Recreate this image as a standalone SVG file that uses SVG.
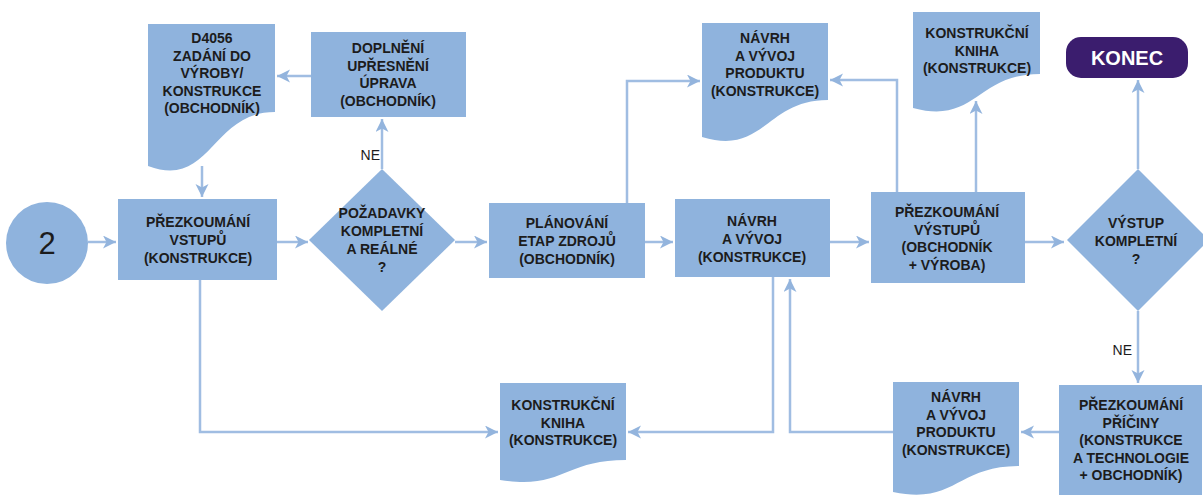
<svg xmlns="http://www.w3.org/2000/svg" width="1203" height="497" viewBox="0 0 1203 497">
  <defs>
    <style>
      .shape { fill: #8fb3dd; }
      .term { fill: #3b1d6e; }
      .lbl { font-family: "Liberation Sans", Arial, sans-serif; font-weight: bold; font-size: 14px; fill: #1c1c1c; text-anchor: middle; }
      .ne { font-family: "Liberation Sans", Arial, sans-serif; font-size: 14px; fill: #1c1c1c; text-anchor: end; }
      .num { font-family: "Liberation Sans", Arial, sans-serif; font-size: 31px; fill: #1c1c1c; text-anchor: middle; }
      .end { font-family: "Liberation Sans", Arial, sans-serif; font-weight: bold; font-size: 20px; fill: #ffffff; text-anchor: middle; }
      .conn { fill: none; stroke: #a0bde2; stroke-width: 2.5; marker-end: url(#arrow); }
    </style>
    <marker id="arrow" markerUnits="userSpaceOnUse" markerWidth="14" markerHeight="14" refX="13" refY="6.5" orient="auto">
      <path d="M0,0 L13,6.5 L0,13 L3.5,6.5 Z" fill="#93b4dd"/>
    </marker>
  </defs>

  <!-- connectors -->
  <g id="connectors">
    <path class="conn" d="M88,242 H116"/>
    <path class="conn" d="M202,166 V197"/>
    <path class="conn" d="M277,242 H308"/>
    <path class="conn" d="M382,169 V119"/>
    <path class="conn" d="M311,76 H277"/>
    <path class="conn" d="M200,280 V432 H498"/>
    <path class="conn" d="M455,242 H487"/>
    <path class="conn" d="M627,203 V81 H700"/>
    <path class="conn" d="M645,242 H673"/>
    <path class="conn" d="M830,242 H869"/>
    <path class="conn" d="M773,277 V432 H628"/>
    <path class="conn" d="M893,432 H790 V279"/>
    <path class="conn" d="M897,192 V80 H830"/>
    <path class="conn" d="M976,192 V101"/>
    <path class="conn" d="M1025,242 H1064"/>
    <path class="conn" d="M1138,169 V80"/>
    <path class="conn" d="M1138,311 V383"/>
    <path class="conn" d="M1059,432 H1021"/>
    <text class="ne" x="380" y="160">NE</text>
    <text class="ne" x="1132" y="355">NE</text>
  </g>

  <!-- start connector -->
  <g id="start">
    <circle class="shape" cx="47" cy="243" r="41"/>
    <text class="num" x="47" y="254">2</text>
  </g>

  <g id="zadani">
    <path class="shape" d="M148,24 H275 V112 C211,112 211,190 148,166 Z"/>
    <text class="lbl" x="212" y="43">D4056</text>
    <text class="lbl" x="212" y="60.5">ZADÁNÍ DO</text>
    <text class="lbl" x="212" y="78">VÝROBY/</text>
    <text class="lbl" x="212" y="95.5">KONSTRUKCE</text>
    <text class="lbl" x="212" y="113">(OBCHODNÍK)</text>
  </g>

  <g id="doplneni">
    <rect class="shape" x="311" y="32" width="155" height="85"/>
    <text class="lbl" x="388" y="53">DOPLNĚNÍ</text>
    <text class="lbl" x="388" y="70.5">UPŘESNĚNÍ</text>
    <text class="lbl" x="388" y="88">ÚPRAVA</text>
    <text class="lbl" x="388" y="105.5">(OBCHODNÍK)</text>
  </g>

  <g id="prezkoumani-vstupu">
    <rect class="shape" x="118" y="199" width="159" height="81"/>
    <text class="lbl" x="198" y="227">PŘEZKOUMÁNÍ</text>
    <text class="lbl" x="198" y="245">VSTUPŮ</text>
    <text class="lbl" x="198" y="263">(KONSTRUKCE)</text>
  </g>

  <g id="pozadavky">
    <polygon class="shape" points="382,169 455,240 382,311 309,240"/>
    <text class="lbl" x="382" y="218">POŽADAVKY</text>
    <text class="lbl" x="382" y="236">KOMPLETNÍ</text>
    <text class="lbl" x="382" y="254">A REÁLNÉ</text>
    <text class="lbl" x="382" y="272">?</text>
  </g>

  <g id="planovani">
    <rect class="shape" x="489" y="203" width="156" height="75"/>
    <text class="lbl" x="567" y="228">PLÁNOVÁNÍ</text>
    <text class="lbl" x="567" y="246">ETAP ZDROJŮ</text>
    <text class="lbl" x="567" y="264">(OBCHODNÍK)</text>
  </g>

  <g id="navrh-vyvoj">
    <rect class="shape" x="675" y="199" width="155" height="78"/>
    <text class="lbl" x="752" y="226">NÁVRH</text>
    <text class="lbl" x="752" y="244">A VÝVOJ</text>
    <text class="lbl" x="752" y="262">(KONSTRUKCE)</text>
  </g>

  <g id="navrh-produktu-horni">
    <path class="shape" d="M702,23 H828 V100 C765,100 765,156 702,137 Z"/>
    <text class="lbl" x="765" y="43">NÁVRH</text>
    <text class="lbl" x="765" y="60.5">A VÝVOJ</text>
    <text class="lbl" x="765" y="78">PRODUKTU</text>
    <text class="lbl" x="765" y="95.5">(KONSTRUKCE)</text>
  </g>

  <g id="prezkoumani-vystupu">
    <rect class="shape" x="871" y="192" width="154" height="91"/>
    <text class="lbl" x="947" y="217">PŘEZKOUMÁNÍ</text>
    <text class="lbl" x="947" y="234.5">VÝSTUPŮ</text>
    <text class="lbl" x="947" y="252">(OBCHODNÍK</text>
    <text class="lbl" x="947" y="269.5">+ VÝROBA)</text>
  </g>

  <g id="kniha-horni">
    <path class="shape" d="M913,12 H1040 V74 C976,74 976,125 913,108 Z"/>
    <text class="lbl" x="977" y="38">KONSTRUKČNÍ</text>
    <text class="lbl" x="977" y="55.5">KNIHA</text>
    <text class="lbl" x="977" y="73">(KONSTRUKCE)</text>
  </g>

  <g id="vystup-kompletni">
    <polygon class="shape" points="1138,169 1209,240 1138,311 1067,240"/>
    <text class="lbl" x="1136" y="228">VÝSTUP</text>
    <text class="lbl" x="1136" y="246">KOMPLETNÍ</text>
    <text class="lbl" x="1136" y="264">?</text>
  </g>

  <g id="konec">
    <rect class="term" x="1066" y="37" width="122" height="41" rx="15"/>
    <text class="end" x="1127" y="64.5">KONEC</text>
  </g>

  <g id="kniha-dolni">
    <path class="shape" d="M500,383 H626 V460 C563,460 563,490 500,480 Z"/>
    <text class="lbl" x="563" y="410">KONSTRUKČNÍ</text>
    <text class="lbl" x="563" y="427.5">KNIHA</text>
    <text class="lbl" x="563" y="445">(KONSTRUKCE)</text>
  </g>

  <g id="navrh-produktu-dolni">
    <path class="shape" d="M893,382 H1019 V466 C956,466 956,505 893,492 Z"/>
    <text class="lbl" x="956" y="402">NÁVRH</text>
    <text class="lbl" x="956" y="419.5">A VÝVOJ</text>
    <text class="lbl" x="956" y="437">PRODUKTU</text>
    <text class="lbl" x="956" y="454.5">(KONSTRUKCE)</text>
  </g>

  <g id="prezkoumani-priciny">
    <rect class="shape" x="1059" y="385" width="143" height="110"/>
    <text class="lbl" x="1131" y="410">PŘEZKOUMÁNÍ</text>
    <text class="lbl" x="1131" y="427.5">PŘÍČINY</text>
    <text class="lbl" x="1131" y="445">(KONSTRUKCE</text>
    <text class="lbl" x="1131" y="462.5">A TECHNOLOGIE</text>
    <text class="lbl" x="1131" y="480">+ OBCHODNÍK)</text>
  </g>
</svg>
